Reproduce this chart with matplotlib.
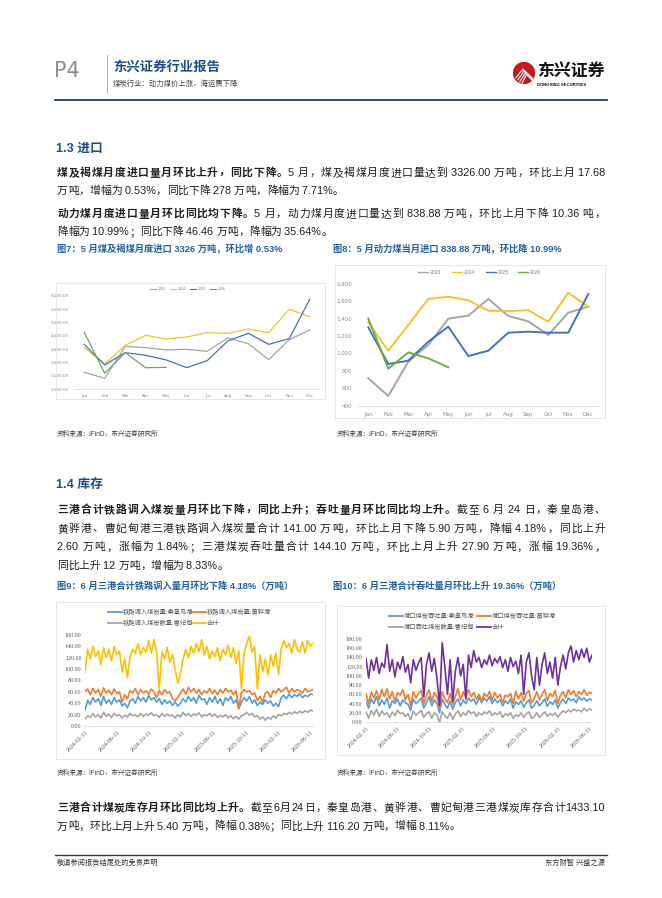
import numpy as np
import pandas as pd
import matplotlib
matplotlib.use("Agg")
import matplotlib.pyplot as plt
from matplotlib.font_manager import FontProperties
from matplotlib.lines import Line2D
from matplotlib.patches import Rectangle, Circle
from matplotlib.ticker import FuncFormatter

W, H = 662, 898
CJK = ["Liberation Sans", "Noto Sans CJK SC"]
NAVY = "#1F3F66"
TITLE_BLUE = "#1F4E8C"
FIG_BLUE = "#2360A8"
TEXT = "#1E1E1E"

# ---- monthly imports (图7: 煤及褐煤, 万吨; 图8: 动力煤, 万吨)
months = ["Jan", "Feb", "Mar", "Apr", "May", "Jun", "Jul", "Aug", "Sep", "Oct", "Nov", "Dec"]
year_labels = ["2023", "2024", "2025", "2026"]
year_colors = ["#A5A5A5", "#F2C230", "#4472C4", "#70AD47"]

coal_2023 = [3137, 2912, 4112, 4062, 3975, 4000, 3925, 4425, 4212, 3612, 4362, 4725]
coal_2024 = [4062, 3450, 4150, 4525, 4387, 4462, 4625, 4600, 4762, 4625, 5500, 5225]
coal_2025 = [4187, 3412, 3875, 3775, 3600, 3312, 3575, 4312, 4600, 4187, 4400, 5875]
coal_2026 = [4637, 3100, 3875, 3308, 3326]

steam_2023 = [713, 511, 904, 1094, 1396, 1430, 1621, 1426, 1365, 1209, 1464, 1533]
steam_2024 = [1350, 1029, 1323, 1621, 1647, 1605, 1487, 1483, 1491, 1361, 1693, 1529]
steam_2025 = [1296, 877, 915, 1132, 1304, 968, 1029, 1235, 1247, 1235, 1235, 1678]
steam_2026 = [1396, 823, 1010, 942, 839]

# ---- three-port series, one reading every 10 days from 2024-02-11 (万吨)
series_start = "2024-02-11"
date_ticks = ["2024-02-11", "2024-06-11", "2024-10-11", "2025-02-11",
              "2025-06-11", "2025-10-11", "2026-02-11", "2026-06-11"]

rail_qhd = [28, 45, 38, 50, 42, 48, 36, 52, 40, 46,
            38, 50, 42, 46, 35, 40, 32, 44, 48, 40,
            52, 44, 50, 42, 54, 46, 50, 42, 48, 38,
            46, 40, 44, 36, 42, 35, 40, 48, 42, 52,
            44, 50, 40, 54, 46, 48, 38, 50, 42, 52,
            40, 48, 36, 50, 44, 52, 40, 46, 30, 42,
            50, 44, 52, 40, 46, 36, 42, 38, 46, 40,
            44, 35, 40, 34, 50, 54, 48, 56, 50, 55,
            52, 57, 50, 54, 52, 56, 55]
rail_hh = [60, 65, 55, 66, 58, 64, 52, 67, 58, 63,
           55, 65, 57, 60, 42, 55, 48, 62, 58, 66,
           55, 64, 58, 62, 56, 65, 60, 50, 62, 55,
           64, 58, 60, 48, 44, 50, 58, 65, 56, 68,
           60, 66, 58, 64, 55, 62, 58, 66, 57, 63,
           55, 64, 58, 66, 60, 63, 55, 62, 32, 58,
           64, 60, 62, 55, 58, 45, 52, 42, 58, 60,
           50, 62, 58, 66, 60, 64, 68, 58, 66, 60,
           64, 62, 58, 66, 60, 62, 64]
rail_cfd = [12, 18, 15, 22, 16, 20, 14, 24, 17, 21,
            15, 22, 18, 20, 14, 19, 16, 22, 18, 20,
            16, 22, 17, 21, 19, 23, 18, 20, 15, 22,
            17, 21, 18, 19, 14, 20, 16, 24, 18, 22,
            17, 21, 19, 23, 16, 20, 18, 22, 17, 21,
            15, 19, 16, 20, 14, 18, 13, 17, 12, 18,
            20, 24, 19, 22, 16, 18, 12, 16, 10, 15,
            12, 18, 14, 20, 18, 22, 20, 24, 21, 25,
            22, 26, 23, 27, 24, 28, 26]
rail_total = [95, 135, 118, 140, 122, 132, 108, 138, 120, 135,
              115, 140, 125, 132, 95, 118, 85, 122, 135, 128,
              145, 125, 138, 130, 150, 128, 152, 132, 65, 130,
              118, 138, 112, 125, 100, 75, 92, 118, 135, 120,
              140, 128, 145, 130, 152, 125, 140, 118, 132, 122,
              138, 115, 135, 125, 142, 120, 138, 110, 132, 65,
              128, 145, 158, 130, 140, 65, 125, 95, 118, 90,
              125, 105, 128, 90, 135, 150, 138, 145, 128, 152,
              135, 130, 148, 128, 150, 140, 146]

port_qhd = [45, 30, 50, 40, 55, 35, 48, 38, 52, 30,
            46, 40, 50, 35, 48, 42, 38, 25, 50, 40,
            45, 52, 30, 42, 55, 35, 48, 40, 20, 50,
            38, 30, 45, 28, 42, 50, 35, 48, 40, 52,
            45, 50, 38, 54, 42, 52, 45, 55, 40, 50,
            42, 48, 35, 46, 40, 50, 30, 44, 38, 46,
            32, 42, 48, 30, 36, 46, 35, 42, 50, 34,
            44, 38, 48, 30, 42, 50, 40, 52, 46, 50,
            42, 55, 48, 52, 45, 50, 48]
port_hh = [62, 40, 65, 52, 68, 48, 70, 55, 72, 50,
           66, 45, 64, 58, 70, 48, 60, 35, 66, 52,
           62, 68, 40, 58, 70, 45, 64, 55, 30, 66,
           50, 42, 62, 38, 56, 72, 48, 66, 52, 70,
           55, 64, 50, 60, 45, 62, 55, 66, 48, 64,
           52, 60, 42, 58, 55, 62, 40, 66, 50, 64,
           45, 62, 68, 42, 50, 66, 48, 60, 70, 46,
           62, 55, 68, 40, 58, 66, 52, 70, 60, 68,
           55, 66, 60, 70, 58, 64, 62]
port_cfd = [22, 8, 25, 15, 28, 12, 24, 16, 20, 10,
            22, 14, 26, 18, 20, 12, 18, 5, 24, 15,
            20, 25, 10, 18, 22, 8, 20, 15, 0, 22,
            14, 8, 20, 6, 18, 24, 12, 20, 15, 25,
            18, 22, 12, 20, 15, 22, 18, 24, 14, 20,
            16, 22, 10, 18, 14, 20, 8, 16, 12, 20,
            10, 18, 22, 8, 12, 20, 10, 16, 22, 12,
            18, 14, 20, 10, 18, 24, 20, 26, 22, 28,
            24, 26, 22, 30, 24, 28, 26]
port_total = [138, 95, 135, 112, 140, 105, 128, 118, 168, 110,
              135, 98, 130, 115, 142, 108, 125, 85, 135, 112,
              128, 140, 55, 125, 150, 110, 138, 95, 35, 172,
              120, 60, 135, 45, 110, 140, 100, 125, 50, 145,
              118, 155, 130, 140, 118, 135, 125, 145, 122, 138,
              128, 142, 118, 135, 110, 140, 120, 132, 105, 145,
              60, 130, 150, 100, 70, 140, 80, 125, 150, 105,
              130, 95, 140, 80, 120, 145, 115, 150, 165, 130,
              155, 135, 158, 140, 160, 130, 145]

rail_labels = ["铁路调入煤炭量:秦皇岛港", "铁路调入煤炭量:黄骅港", "铁路调入煤炭数量:曹妃甸", "合计"]
rail_colors = ["#5B9BD5", "#ED7D31", "#A5A5A5", "#FFC000"]
port_labels = ["港口煤炭吞吐量:秦皇岛港", "港口煤炭吞吐量:黄骅港", "港口吞吐煤炭数量:曹妃甸", "合计"]
port_colors = ["#5B9BD5", "#ED7D31", "#A5A5A5", "#7030A0"]

para1 = [
    ([("煤及褐煤月度进口量月环比上升，同比下降。", True),
      ("5 月，煤及褐煤月度进口量达到 3326.00 万吨，环比上月 17.68", False)], True),
    ([("万吨，增幅为 0.53%，同比下降 278 万吨，降幅为 7.71%。", False)], False),
]
para2 = [
    ([("动力煤月度进口量月环比同比均下降。", True),
      ("5 月，动力煤月度进口量达到 838.88 万吨，环比上月下降 10.36 吨，", False)], True),
    ([("降幅为 10.99%；同比下降 46.46 万吨，降幅为 35.64%。", False)], False),
]
para3 = [
    ([("三港合计铁路调入煤炭量月环比下降，同比上升；吞吐量月环比同比均上升。", True),
      ("截至 6 月 24 日，秦皇岛港、", False)], True),
    ([("黄骅港、曹妃甸港三港铁路调入煤炭量合计 141.00 万吨，环比上月下降 5.90 万吨，降幅 4.18%，同比上升", False)], True),
    ([("2.60 万吨，涨幅为 1.84%；三港煤炭吞吐量合计 144.10 万吨，环比上月上升 27.90 万吨，涨幅 19.36%，", False)], True),
    ([("同比上升 12 万吨，增幅为 8.33%。", False)], False),
]
para4 = [
    ([("三港合计煤炭库存月环比同比均上升。", True),
      ("截至6月24日，秦皇岛港、黄骅港、曹妃甸港三港煤炭库存合计1433.10", False)], True),
    ([("万吨，环比上月上升 5.40 万吨，降幅 0.38%；同比上升 116.20 万吨，增幅 8.11%。", False)], False),
]


def fx(x):
    return x / W


def fy(y):
    return 1 - y / H


def axes_px(fig, left, top, right, bottom):
    return fig.add_axes([fx(left), fy(bottom), (right - left) / W, (bottom - top) / H])


def frame(fig, x0, y0, x1, y1):
    fig.add_artist(Rectangle((fx(x0), fy(y1)), (x1 - x0) / W, (y1 - y0) / H,
                             transform=fig.transFigure, fill=False,
                             edgecolor="#E2E2E2", linewidth=0.6))


def split_units(text):
    # CJK glyphs one by one, latin runs (digits, spaces, %) kept whole
    units, buf = [], ""
    for ch in text:
        if ord(ch) >= 0x2E80:
            if buf:
                units.append((False, buf))
                buf = ""
            units.append((True, ch))
        else:
            buf += ch
    if buf:
        units.append((False, buf))
    return units


def latin_width(renderer, run, prop):
    w1 = renderer.get_text_width_height_descent("H" + run + "H", prop, False)[0]
    w0 = renderer.get_text_width_height_descent("HH", prop, False)[0]
    return w1 - w0


def paragraph(fig, renderer, lines, x0, y0, lead, size=7.8, width=548):
    em = size * fig.dpi / 72
    y = y0
    for segments, justify in lines:
        items = []
        for text, bold in segments:
            weight = "bold" if bold else "normal"
            cprop = FontProperties(family="Noto Sans CJK SC", size=size, weight=weight)
            lprop = FontProperties(family="Liberation Sans", size=size, weight=weight)
            for is_cjk, s in split_units(text):
                if is_cjk:
                    items.append((s, cprop, em))
                else:
                    items.append((s, lprop, latin_width(renderer, s, lprop)))
        total = sum(w for _, _, w in items)
        gap = (width - total) / (len(items) - 1) if justify else 0
        x = x0
        for s, prop, w in items:
            if s.strip():
                fig.text(fx(x), fy(y), s, fontproperties=prop, color=TEXT,
                         ha="left", va="baseline")
            x += w + gap
        y += lead


def monthly_chart(ax, series, ylim, step, fmt, lw, fs, pad):
    for vals, c in zip(series, year_colors):
        ax.plot(range(len(vals)), vals, color=c, lw=lw)
    ax.set_xlim(-0.5, 11.5)
    ax.set_ylim(*ylim)
    ax.set_yticks(np.arange(ylim[0], ylim[1] + 1, step))
    ax.yaxis.set_major_formatter(FuncFormatter(fmt))
    ax.set_xticks(range(12))
    ax.set_xticklabels(months)
    ax.tick_params(length=0, labelsize=fs, colors="#8C8C8C", pad=pad)
    for s in ["top", "right", "left"]:
        ax.spines[s].set_visible(False)
    ax.spines["bottom"].set_color("#D9D9D9")
    ax.spines["bottom"].set_linewidth(0.6)
    ax.patch.set_alpha(0)


def small_legend(fig, xs, y, labels, colors, seg, fs, lw):
    for x, lab, c in zip(xs, labels, colors):
        fig.add_artist(Line2D([fx(x), fx(x + seg)], [fy(y), fy(y)],
                              transform=fig.transFigure, color=c, lw=lw))
        fig.text(fx(x + seg + 1.5), fy(y), lab, fontsize=fs, color="#7F7F7F",
                 ha="left", va="center", family=CJK)


def daily_chart(fig, box, plot, series, labels, colors, ymax, legend_x, legend_y):
    frame(fig, *box)
    ax = axes_px(fig, *plot)
    dates = pd.date_range(series_start, periods=len(series[0]), freq="10D")
    for vals, c in zip(series, colors):
        ax.plot(dates, vals, color=c, lw=1.2)
    ax.set_xlim(dates[0], dates[-1])
    ax.set_ylim(0, ymax)
    ax.set_yticks(np.arange(0, ymax + 1, 20))
    ax.yaxis.set_major_formatter(FuncFormatter(lambda v, p: f"{v:.2f}"))
    ax.set_xticks(pd.to_datetime(date_ticks))
    ax.set_xticklabels(date_ticks, rotation=45, ha="right", rotation_mode="anchor")
    ax.tick_params(length=0, labelsize=4.3, colors="#595959", pad=2.5)
    for lab in ax.get_xticklabels() + ax.get_yticklabels():
        lab.set_family("Liberation Serif")
    for s in ["top", "right", "left"]:
        ax.spines[s].set_visible(False)
    ax.spines["bottom"].set_color("#D9D9D9")
    ax.spines["bottom"].set_linewidth(0.6)
    ax.patch.set_alpha(0)
    rows = [(0, 0), (1, 0), (0, 1), (1, 1)]
    for (col, row), lab, c in zip(rows, labels, colors):
        x = legend_x[col]
        y = legend_y[row]
        fig.add_artist(Line2D([fx(x), fx(x + 14)], [fy(y), fy(y)],
                              transform=fig.transFigure, color=c, lw=1.3))
        fig.text(fx(x + 15), fy(y), lab, fontsize=4.5, color="#595959",
                 ha="left", va="center", family=CJK)


def header(fig):
    fig.text(fx(54), fy(71), "P4", fontsize=15, color="#8C8C8C", va="center",
             ha="left", family=["Liberation Sans Narrow", "DejaVu Sans"])
    fig.add_artist(Line2D([fx(107), fx(107)], [fy(55), fy(93)],
                          transform=fig.transFigure, color="#A0A0A0", lw=0.6))
    fig.text(fx(113), fy(72), "东兴证券行业报告", fontsize=9.6, fontweight="bold",
             color=TITLE_BLUE, family=CJK, va="baseline")
    fig.text(fx(113), fy(86), "煤炭行业：动力煤价上涨，海运费下降", fontsize=5.3,
             color="#404040", family=CJK, va="baseline")
    logo = axes_px(fig, 513, 62, 535, 84)
    logo.set_xlim(-1, 1)
    logo.set_ylim(-1, 1)
    logo.set_aspect("equal")
    logo.axis("off")
    logo.add_patch(Circle((0, 0), 0.95, color="#C8161D"))
    for k in range(4):
        off = k * 0.18
        logo.plot([-0.75 + off, -0.1 + off * 0.6, 0.75], [-0.45 - off, 0.35 - off * 0.9, -0.45 - off * 0.4],
                  color="white", lw=0.8, solid_capstyle="round")
    fig.text(fx(537), fy(77), "东兴证券", fontsize=12.2, fontweight="bold",
             color="#111111", family=CJK, va="baseline")
    fig.text(fx(537), fy(86.5), "DONGXING SECURITIES", fontsize=3.1, fontweight="bold",
             color="#111111", family="Liberation Sans", va="baseline")
    fig.add_artist(Line2D([fx(55), fx(607)], [fy(100), fy(100)],
                          transform=fig.transFigure, color=NAVY, lw=1.3))


def main() -> None:
    fig = plt.figure(figsize=(W / 100, H / 100), dpi=100)
    fig.patch.set_facecolor("white")
    renderer = fig.canvas.get_renderer()

    header(fig)

    # 1.3 imports
    fig.text(fx(56), fy(152), "1.3 进口", fontsize=9.2, fontweight="bold",
             color=TITLE_BLUE, family=CJK, va="baseline")
    paragraph(fig, renderer, para1, 57, 176, 18)
    paragraph(fig, renderer, para2, 57, 217, 18)
    fig.text(fx(57), fy(252.5), "图7：5 月煤及褐煤月度进口 3326 万吨，环比增 0.53%",
             fontsize=6.7, fontweight="bold", color=FIG_BLUE, family=CJK, va="baseline")
    fig.text(fx(333), fy(252.5), "图8：5 月动力煤当月进口 838.88 万吨，环比降 10.99%",
             fontsize=6.7, fontweight="bold", color=FIG_BLUE, family=CJK, va="baseline")

    frame(fig, 56, 283, 325, 399)
    ax7 = axes_px(fig, 74, 296, 320, 389.3)
    monthly_chart(ax7, [coal_2023, coal_2024, coal_2025, coal_2026], (2500, 6000), 500,
                  lambda v, p: f"{v:,.2f}", 0.9, 3.0, 3.5)
    small_legend(fig, [150, 170, 190, 210], 289, year_labels, year_colors, 6, 2.6, 0.8)

    frame(fig, 335, 265, 605, 418)
    ax8 = axes_px(fig, 358.3, 283.3, 598.3, 405.7)
    monthly_chart(ax8, [steam_2023, steam_2024, steam_2025, steam_2026], (400, 1800), 200,
                  lambda v, p: f"{v:,.0f}", 1.4, 4.0, 4.5)
    small_legend(fig, [418, 452, 486, 518], 272, year_labels, year_colors, 10, 3.6, 1.0)

    fig.text(fx(57), fy(435.5), "资料来源：iFinD，东兴证券研究所", fontsize=4.8,
             color="#404040", family=CJK, va="baseline")
    fig.text(fx(337), fy(435.5), "资料来源：iFinD，东兴证券研究所", fontsize=4.8,
             color="#404040", family=CJK, va="baseline")

    # 1.4 inventory
    fig.text(fx(56), fy(488), "1.4 库存", fontsize=9.2, fontweight="bold",
             color=TITLE_BLUE, family=CJK, va="baseline")
    paragraph(fig, renderer, para3, 57, 513, 18.7)
    fig.text(fx(57), fy(589), "图9：6 月三港合计铁路调入量月环比下降 4.18%（万吨）",
             fontsize=6.7, fontweight="bold", color=FIG_BLUE, family=CJK, va="baseline")
    fig.text(fx(333), fy(589), "图10：6 月三港合计吞吐量月环比上升 19.36%（万吨）",
             fontsize=6.7, fontweight="bold", color=FIG_BLUE, family=CJK, va="baseline")

    daily_chart(fig, (56, 602, 325, 759), (85, 635, 313, 726),
                [rail_qhd, rail_hh, rail_cfd, rail_total], rail_labels, rail_colors,
                160, (108, 192), (612, 623))
    daily_chart(fig, (337, 606, 605, 755), (366, 639, 592, 722),
                [port_qhd, port_hh, port_cfd, port_total], port_labels, port_colors,
                180, (389, 477), (616, 627))

    fig.text(fx(57), fy(775), "资料来源：iFinD，东兴证券研究所", fontsize=4.8,
             color="#404040", family=CJK, va="baseline")
    fig.text(fx(337), fy(775), "资料来源：iFinD，东兴证券研究所", fontsize=4.8,
             color="#404040", family=CJK, va="baseline")

    paragraph(fig, renderer, para4, 57, 811, 18.5)

    # footer
    fig.add_artist(Line2D([fx(55), fx(607)], [fy(855), fy(855)],
                          transform=fig.transFigure, color=NAVY, lw=1.0))
    fig.text(fx(57), fy(864.5), "敬请参阅报告结尾处的免责声明", fontsize=5.2,
             color="#333333", family=CJK, va="baseline")
    fig.text(fx(605), fy(864.5), "东方财智 兴盛之源", fontsize=5.2, ha="right",
             color="#333333", family=CJK, va="baseline")

    fig.savefig("out.png", dpi=100)


if __name__ == "__main__":
    main()
